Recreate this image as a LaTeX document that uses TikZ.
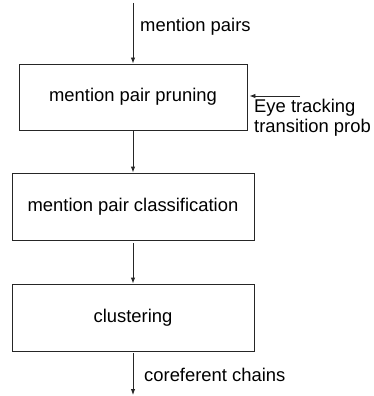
\documentclass[tikz,border=0pt]{standalone}
\usepackage{fontspec}
\setmainfont{Liberation Sans}
\usetikzlibrary{arrows.meta}
\begin{document}
\begin{tikzpicture}[x=1pt,y=-1pt,
  txt/.style={font=\fontsize{18.4pt}{20pt}\selectfont},
  stagebox/.style={draw=black!85, line width=0.9pt, inner sep=0pt, txt},
  flow/.style={draw=black!85, line width=0.9pt, -{Latex[length=6pt,width=4.5pt]}},
  lbl/.style={txt, inner sep=0pt, anchor=base west}]
  \useasboundingbox (0,0) rectangle (374,396);
  \node[stagebox, minimum width=228pt, minimum height=66pt] (prune) at (133,97) {mention pair pruning};
  \node[stagebox, minimum width=242pt, minimum height=67pt] (classify) at (133,206.5) {mention pair classification};
  \node[stagebox, minimum width=242pt, minimum height=67pt] (cluster) at (133,317.5) {clustering};
  \coordinate (in) at (133,3);
  \coordinate (out) at (133,395);
  \coordinate (eyesrc) at (300,96);
  \draw[flow] (in) -- (prune);
  \draw[flow] (prune) -- (classify);
  \draw[flow, shorten <=3pt] (classify) -- (cluster);
  \draw[flow, shorten <=2pt] (cluster) -- (out);
  \draw[flow, shorten >=2pt] (eyesrc) -- (prune.east |- eyesrc);
  \node[lbl] (mp) at (140,32) {mention pairs};
  \node[lbl, align=left] (eye) at (254,132) {Eye tracking\\transition prob};
  \node[lbl] (cc) at (144,381.5) {coreferent chains};
\end{tikzpicture}
\end{document}
